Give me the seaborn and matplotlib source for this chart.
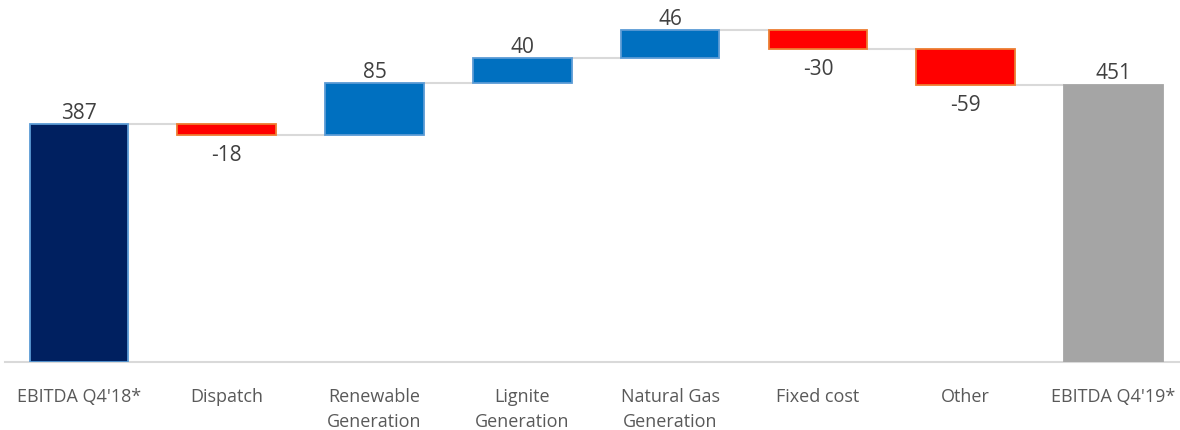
import numpy as np
import pandas as pd
import matplotlib
matplotlib.use("Agg")
import matplotlib.pyplot as plt
import seaborn as sns

# EBITDA bridge Q4'18 -> Q4'19 (EUR m)
categories = ["EBITDA Q4'18*", "Dispatch", "Renewable\nGeneration", "Lignite\nGeneration",
              "Natural Gas\nGeneration", "Fixed cost", "Other", "EBITDA Q4'19*"]
values = [387, -18, 85, 40, 46, -30, -59, 451]
kinds = ["total", "delta", "delta", "delta", "delta", "delta", "delta", "total"]

sns.set_theme(style="white")
plt.rcParams["font.family"] = ["Open Sans", "DejaVu Sans"]

# Running totals for the floating bars
bottoms, heights, levels = [], [], []
running = 0
for v, k in zip(values, kinds):
    if k == "total":
        bottoms.append(0)
        heights.append(v)
        running = v
    else:
        start = running
        running = running + v
        bottoms.append(min(start, running))
        heights.append(abs(v))
    levels.append(running)

face_colors, edge_colors = [], []
for i, (v, k) in enumerate(zip(values, kinds)):
    if k == "total":
        face_colors.append("#002060" if i == 0 else "#A5A5A5")
        edge_colors.append("#5B9BD5" if i == 0 else "#A5A5A5")
    elif v < 0:
        face_colors.append("#FF0000")
        edge_colors.append("#ED7D31")
    else:
        face_colors.append("#0070C0")
        edge_colors.append("#5B9BD5")

df = pd.DataFrame({"category": categories, "height": heights})

W, H = 1180, 431
fig = plt.figure(figsize=(W / 100, H / 100), dpi=100)
ax = fig.add_axes([5 / W, 68 / H, 1175 / W, 363 / H])

sns.barplot(data=df, x="category", y="height", order=categories, ax=ax,
            width=0.667, color="#0070C0", saturation=1, bottom=bottoms,
            facecolor=face_colors, edgecolor=edge_colors, linewidth=1.3, zorder=3)

ax.set_xlim(-0.5, 7.45)
ax.set_ylim(0, 590.7)

# Connector lines between consecutive bars
half = 0.667 / 2
for i in range(len(values) - 1):
    ax.hlines(levels[i], i + half, i + 1 - half, color="#D9D9D9", linewidth=1.5, zorder=2)

# Value labels: above for increases/totals, below for decreases
for i, (v, k) in enumerate(zip(values, kinds)):
    top = bottoms[i] + heights[i]
    if v >= 0:
        ax.annotate(f"{v}", (i, top), xytext=(0, 1), textcoords="offset points",
                    ha="center", va="bottom", fontsize=15, color="#404040")
    else:
        ax.annotate(f"{v}", (i, bottoms[i]), xytext=(0, -6.5), textcoords="offset points",
                    ha="center", va="top", fontsize=15, color="#404040")

ax.set_xlabel("")
ax.set_ylabel("")
ax.set_yticks([])
ax.tick_params(axis="x", length=0, pad=18, labelsize=13, labelcolor="#595959")
for lbl in ax.get_xticklabels():
    lbl.set_linespacing(1.5)
for side in ["top", "right", "left"]:
    ax.spines[side].set_visible(False)
ax.spines["bottom"].set_color("#D9D9D9")
ax.spines["bottom"].set_linewidth(1.5)
ax.spines["bottom"].set_zorder(1)

fig.savefig("out.png", dpi=100)
